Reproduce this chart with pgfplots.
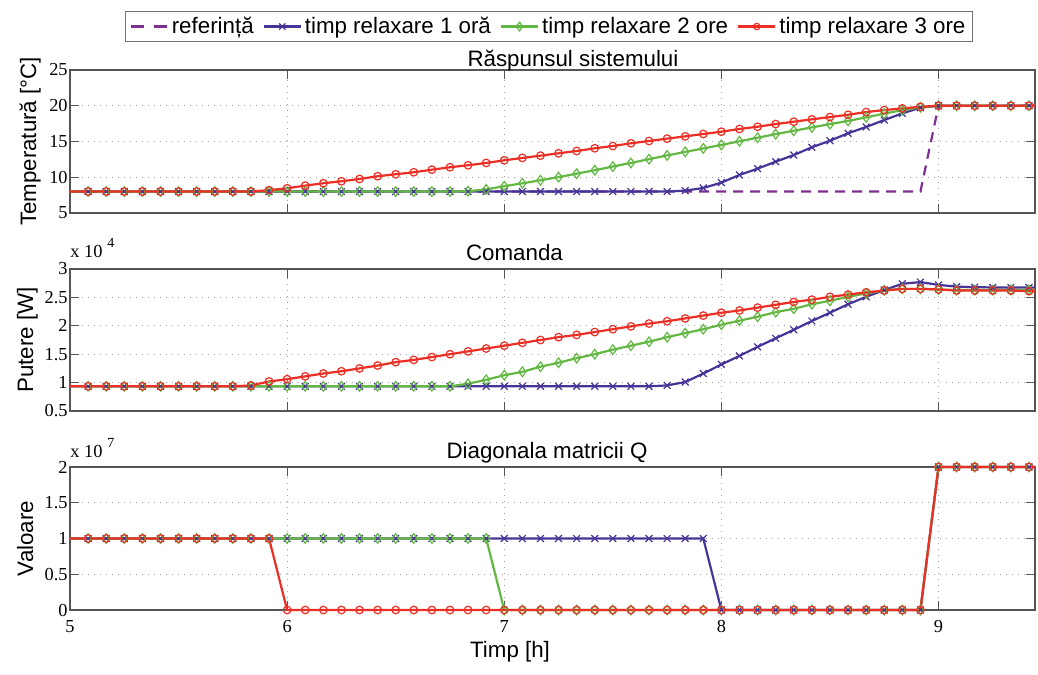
\documentclass[border=0pt]{standalone}
\usepackage{fontspec}
\setmainfont{Liberation Sans}
\newfontfamily\seriffont{Liberation Serif}
\usepackage{pgfplots}
\usepackage{pgfplotstable}
\pgfplotsset{compat=1.18}
\definecolor{refc}{RGB}{126,47,142}
\definecolor{c1}{RGB}{72,52,152}
\definecolor{c2}{RGB}{98,184,66}
\definecolor{c3}{RGB}{236,46,36}
\definecolor{axc}{RGB}{85,85,85}
\newcommand\tickfont{\seriffont\fontsize{9.2}{11}\selectfont}
\newcommand\labfont{\fontsize{11.2}{13}\selectfont}

% Temperature [C]
\pgfplotstableread{
x ref b g r
5.0000 8 8 8 8
5.0833 8 8 8 8
5.1667 8 8 8 8
5.2500 8 8 8 8
5.3333 8 8 8 8
5.4167 8 8 8 8
5.5000 8 8 8 8
5.5833 8 8 8 8
5.6667 8 8 8 8
5.7500 8 8 8 8
5.8333 8 8 8 8
5.9167 8 8 8 8.20
6.0000 8 8 8 8.46
6.0833 8 8 8 8.83
6.1667 8 8 8 9.16
6.2500 8 8 8 9.44
6.3333 8 8 8 9.76
6.4167 8 8 8 10.14
6.5000 8 8 8 10.42
6.5833 8 8 8 10.70
6.6667 8 8 8 11.06
6.7500 8 8 8 11.40
6.8333 8 8 8.05 11.68
6.9167 8 8 8.30 12.00
7.0000 8 8 8.75 12.37
7.0833 8 8 9.15 12.70
7.1667 8 8 9.58 13.02
7.2500 8 8 10.02 13.35
7.3333 8 8 10.50 13.67
7.4167 8 8 10.98 14.05
7.5000 8 8 11.50 14.37
7.5833 8 8 12.00 14.75
7.6667 8 8 12.53 15.07
7.7500 8 8 13.05 15.40
7.8333 8 8.13 13.55 15.72
7.9167 8 8.50 14.03 16.05
8.0000 8 9.25 14.52 16.37
8.0833 8 10.32 15.03 16.75
8.1667 8 11.20 15.53 17.07
8.2500 8 12.18 16.03 17.44
8.3333 8 13.11 16.50 17.77
8.4167 8 14.19 16.97 18.10
8.5000 8 15.11 17.43 18.42
8.5833 8 16.15 17.88 18.74
8.6667 8 17.03 18.38 19.12
8.7500 8 18.00 18.90 19.40
8.8333 8 18.94 19.38 19.63
8.9167 8 19.72 19.78 19.86
9.0000 20 20 20 20
9.0833 20 20 20 20
9.1667 20 20 20 20
9.2500 20 20 20 20
9.3333 20 20 20 20
9.4167 20 20 20 20
9.4444 20 20 20 20
}\Ttab

% Power [x 10^4 W]
\pgfplotstableread{
x b g r
5.0000 0.935 0.935 0.935
5.0833 0.935 0.935 0.935
5.1667 0.935 0.935 0.935
5.2500 0.935 0.935 0.935
5.3333 0.935 0.935 0.935
5.4167 0.935 0.935 0.935
5.5000 0.935 0.935 0.935
5.5833 0.935 0.935 0.935
5.6667 0.935 0.935 0.935
5.7500 0.935 0.935 0.935
5.8333 0.935 0.935 0.95
5.9167 0.935 0.935 1.02
6.0000 0.935 0.935 1.06
6.0833 0.935 0.935 1.11
6.1667 0.935 0.935 1.16
6.2500 0.935 0.935 1.20
6.3333 0.935 0.935 1.25
6.4167 0.935 0.935 1.30
6.5000 0.935 0.935 1.36
6.5833 0.935 0.935 1.40
6.6667 0.935 0.935 1.45
6.7500 0.935 0.935 1.50
6.8333 0.935 0.98 1.55
6.9167 0.935 1.05 1.60
7.0000 0.935 1.13 1.65
7.0833 0.935 1.19 1.70
7.1667 0.935 1.28 1.75
7.2500 0.935 1.35 1.80
7.3333 0.935 1.43 1.84
7.4167 0.935 1.50 1.89
7.5000 0.935 1.58 1.94
7.5833 0.935 1.65 1.99
7.6667 0.935 1.72 2.04
7.7500 0.95 1.80 2.08
7.8333 1.01 1.87 2.13
7.9167 1.16 1.94 2.18
8.0000 1.32 2.02 2.23
8.0833 1.47 2.09 2.27
8.1667 1.63 2.16 2.32
8.2500 1.78 2.24 2.37
8.3333 1.93 2.30 2.42
8.4167 2.085 2.38 2.46
8.5000 2.23 2.44 2.51
8.5833 2.38 2.51 2.55
8.6667 2.51 2.57 2.59
8.7500 2.63 2.625 2.62
8.8333 2.74 2.65 2.65
8.9167 2.77 2.65 2.65
9.0000 2.72 2.64 2.64
9.0833 2.69 2.63 2.62
9.1667 2.68 2.63 2.62
9.2500 2.675 2.63 2.62
9.3333 2.675 2.63 2.62
9.4167 2.675 2.63 2.61
9.4444 2.675 2.63 2.61
}\Ptab

% Q diagonal [x 10^7]
\pgfplotstableread{
x b g r
5.0000 1 1 1
5.0833 1 1 1
5.1667 1 1 1
5.2500 1 1 1
5.3333 1 1 1
5.4167 1 1 1
5.5000 1 1 1
5.5833 1 1 1
5.6667 1 1 1
5.7500 1 1 1
5.8333 1 1 1
5.9167 1 1 1
6.0000 1 1 0
6.0833 1 1 0
6.1667 1 1 0
6.2500 1 1 0
6.3333 1 1 0
6.4167 1 1 0
6.5000 1 1 0
6.5833 1 1 0
6.6667 1 1 0
6.7500 1 1 0
6.8333 1 1 0
6.9167 1 1 0
7.0000 1 0 0
7.0833 1 0 0
7.1667 1 0 0
7.2500 1 0 0
7.3333 1 0 0
7.4167 1 0 0
7.5000 1 0 0
7.5833 1 0 0
7.6667 1 0 0
7.7500 1 0 0
7.8333 1 0 0
7.9167 1 0 0
8.0000 0 0 0
8.0833 0 0 0
8.1667 0 0 0
8.2500 0 0 0
8.3333 0 0 0
8.4167 0 0 0
8.5000 0 0 0
8.5833 0 0 0
8.6667 0 0 0
8.7500 0 0 0
8.8333 0 0 0
8.9167 0 0 0
9.0000 2 2 2
9.0833 2 2 2
9.1667 2 2 2
9.2500 2 2 2
9.3333 2 2 2
9.4167 2 2 2
9.4444 2 2 2
}\Qtab

\pgfplotsset{
 panel/.style={
  scale only axis, width=482.5bp,
  xmin=5, xmax=9.4444, xtick={5,6,7,8,9},
  tick align=inside, major tick length=4.6bp,
  axis line style={draw=axc, line width=0.55bp},
  every tick/.style={draw=axc, line width=0.55bp},
  grid=major,
  major grid style={draw=gray!75, line width=0.45bp, dash pattern=on 0.5bp off 2.5bp},
  ticklabel style={font=\tickfont},
  yticklabel style={inner sep=1bp},
  xticklabel style={yshift=-1.5bp},
  /pgf/number format/assume math mode=true,
  ylabel style={font=\labfont, anchor=base},
  clip=false,
  legend image code/.code={\draw[mark repeat=2,mark phase=2,##1] plot coordinates {(0bp,0bp) (9.25bp,0bp) (18.5bp,0bp)};},
 },
 lref/.style={draw=refc, line width=1.1bp, dash pattern=on 5bp off 3.5bp, mark=none},
 l1/.style={draw=c1, line width=1.1bp, mark=none},
 l2/.style={draw=c2, line width=1.1bp, mark=none},
 l3/.style={draw=c3, line width=1.1bp, mark=none},
 m1/.style={color=c1, only marks, mark=x, mark size=2.4bp, mark options={line width=0.6bp}, restrict x to domain=5.05:9.43},
 m2/.style={color=c2, only marks, mark=diamond, mark size=2.4bp, mark options={line width=0.6bp}, restrict x to domain=5.05:9.43},
 m3/.style={color=c3, only marks, mark=o, mark size=1.9bp, mark options={line width=0.6bp}, restrict x to domain=5.05:9.43},
}

\begin{document}
\begin{tikzpicture}
\path[use as bounding box] (0,0) rectangle (519bp,-337.5bp);

% ---------- Panel 1 ----------
\begin{axis}[panel, at={(35bp,-106.5bp)}, anchor=south west, height=71.5bp,
  ymin=5, ymax=25, ytick={5,10,15,20,25}, xticklabels={},
  ylabel={Temperatură [°C]},
  ylabel style={at={(axis description cs:-0.0352,0.5)}},
  legend columns=4,
  legend style={at={(axis description cs:0.4964,1.304)}, anchor=center,
    font=\labfont, draw=gray!90!black, line width=0.6bp,
    inner xsep=2bp, inner ysep=1bp, nodes={inner sep=1.5bp},
    /tikz/every even column/.append style={column sep=3bp}},
  legend cell align=left]
\addplot[lref, forget plot] table[x=x,y=ref]{\Ttab};
\addplot[l1, forget plot] table[x=x,y=b]{\Ttab};
\addplot[m1, forget plot] table[x=x,y=b]{\Ttab};
\addplot[l2, forget plot] table[x=x,y=g]{\Ttab};
\addplot[m2, forget plot] table[x=x,y=g]{\Ttab};
\addplot[l3, forget plot] table[x=x,y=r]{\Ttab};
\addplot[m3, forget plot] table[x=x,y=r]{\Ttab};
\addlegendimage{draw=refc, line width=1.1bp, dash pattern=on 6.5bp off 5bp}
\addlegendentry{referință}
\addlegendimage{color=c1, line width=1.1bp, mark=x, mark size=2.2bp, mark options={line width=0.6bp}}
\addlegendentry{timp relaxare 1 oră}
\addlegendimage{color=c2, line width=1.1bp, mark=diamond, mark size=2.2bp, mark options={line width=0.6bp}}
\addlegendentry{timp relaxare 2 ore}
\addlegendimage{color=c3, line width=1.1bp, mark=o, mark size=1.6bp, mark options={line width=0.6bp}}
\addlegendentry{timp relaxare 3 ore}
\node[font=\labfont, anchor=base, inner sep=0pt, yshift=2bp] at (axis description cs:0.5212,1) {Răspunsul sistemului};
\end{axis}

% ---------- Panel 2 ----------
\begin{axis}[panel, at={(35bp,-205.5bp)}, anchor=south west, height=71bp,
  ymin=0.5, ymax=3, ytick={0.5,1,1.5,2,2.5,3}, xticklabels={},
  ylabel={Putere [W]},
  ylabel style={at={(axis description cs:-0.0383,0.5)}}]
\addplot[l1, forget plot] table[x=x,y=b]{\Ptab};
\addplot[m1, forget plot] table[x=x,y=b]{\Ptab};
\addplot[l2, forget plot] table[x=x,y=g]{\Ptab};
\addplot[m2, forget plot] table[x=x,y=g]{\Ptab};
\addplot[l3, forget plot] table[x=x,y=r]{\Ptab};
\addplot[m3, forget plot] table[x=x,y=r]{\Ptab};
\node[font=\labfont, anchor=base, inner sep=0pt, yshift=4.5bp] at (axis description cs:0.4606,1) {Comanda};
\node[font=\tickfont, anchor=base west, inner sep=0pt, yshift=5.8bp] at (axis description cs:0,1) {x 10\hspace{2.5bp}\raisebox{5bp}{\fontsize{7}{8}\selectfont 4}};
\end{axis}

% ---------- Panel 3 ----------
\begin{axis}[panel, at={(35bp,-305bp)}, anchor=south west, height=71.5bp,
  ymin=0, ymax=2, ytick={0,0.5,1,1.5,2},
  ylabel={Valoare},
  ylabel style={at={(axis description cs:-0.0383,0.5)}}]
\addplot[l1, forget plot] table[x=x,y=b]{\Qtab};
\addplot[m1, forget plot] table[x=x,y=b]{\Qtab};
\addplot[l2, forget plot] table[x=x,y=g]{\Qtab};
\addplot[m2, forget plot] table[x=x,y=g]{\Qtab};
\addplot[l3, forget plot] table[x=x,y=r]{\Qtab};
\addplot[m3, forget plot] table[x=x,y=r]{\Qtab};
\node[font=\labfont, anchor=base, inner sep=0pt, yshift=4.5bp] at (axis description cs:0.4943,1) {Diagonala matricii Q};
\node[font=\tickfont, anchor=base west, inner sep=0pt, yshift=5bp] at (axis description cs:0,1) {x 10\hspace{2.5bp}\raisebox{5bp}{\fontsize{7}{8}\selectfont 7}};
\node[font=\labfont, anchor=base, inner sep=0pt, yshift=-23.5bp] at (axis description cs:0.456,0) {Timp [h]};
\end{axis}
\end{tikzpicture}
\end{document}
